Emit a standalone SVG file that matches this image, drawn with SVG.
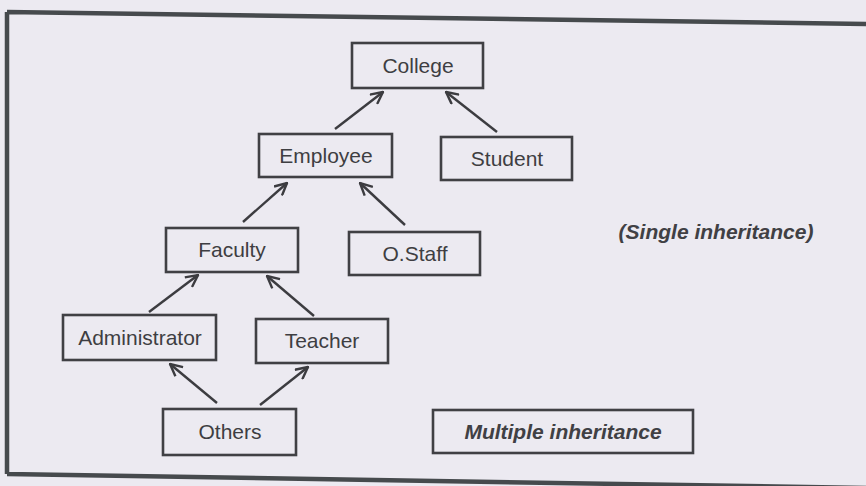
<svg xmlns="http://www.w3.org/2000/svg" width="866" height="486" viewBox="0 0 866 486">
  <defs>
    <marker id="open-arrow" viewBox="0 0 14 14" refX="13" refY="7" markerWidth="14" markerHeight="14" markerUnits="userSpaceOnUse" orient="auto">
      <path d="M1,1 L13,7 L1,13" fill="none" stroke="#3c3c40" stroke-width="2.4" stroke-linejoin="miter"/>
    </marker>
    <style>
      .box { fill: none; stroke: #404044; stroke-width: 2.6; }
      .label { font-family: "Liberation Sans", Arial, sans-serif; font-size: 21px; fill: #3e3e42; text-anchor: middle; }
      .note { font-family: "Liberation Sans", Arial, sans-serif; font-size: 21px; font-style: italic; font-weight: bold; fill: #404044; text-anchor: middle; }
      .edge { stroke: #3c3c40; stroke-width: 2.4; fill: none; marker-end: url(#open-arrow); }
      .frame { stroke: #464a4d; stroke-width: 4.5; fill: none; }
    </style>
  </defs>

  <rect width="866" height="486" fill="#eceaf1"/>

  <!-- outer frame: top, left and bottom rules -->
  <path class="frame" d="M7,12 L866,24 M7,12 L7,474 M7,474 L866,488"/>

  <g id="college"><rect class="box" x="352" y="43" width="131" height="45"/><text class="label" x="418" y="73">College</text></g>
  <g id="employee"><rect class="box" x="259" y="134" width="133" height="43"/><text class="label" x="326" y="163">Employee</text></g>
  <g id="student"><rect class="box" x="441" y="137" width="131" height="43"/><text class="label" x="507" y="166">Student</text></g>
  <g id="faculty"><rect class="box" x="166" y="228" width="132" height="44"/><text class="label" x="232" y="257">Faculty</text></g>
  <g id="ostaff"><rect class="box" x="349" y="232" width="131" height="43"/><text class="label" x="415" y="261">O.Staff</text></g>
  <g id="administrator"><rect class="box" x="63" y="315" width="153" height="45"/><text class="label" x="140" y="345">Administrator</text></g>
  <g id="teacher"><rect class="box" x="256" y="319" width="132" height="44"/><text class="label" x="322" y="348">Teacher</text></g>
  <g id="others"><rect class="box" x="163" y="409" width="133" height="46"/><text class="label" x="230" y="439">Others</text></g>
  <g id="multiple"><rect class="box" x="433" y="410" width="260" height="43"/><text class="note" x="563" y="439">Multiple inheritance</text></g>
  <g id="single"><text class="note" x="716" y="239">(Single inheritance)</text></g>

  <g id="connectors">
    <line class="edge" x1="335" y1="129" x2="383" y2="92"/>
    <line class="edge" x1="497" y1="132" x2="446" y2="92"/>
    <line class="edge" x1="243" y1="222" x2="287" y2="183"/>
    <line class="edge" x1="405" y1="225" x2="360" y2="183"/>
    <line class="edge" x1="149" y1="312" x2="198" y2="275"/>
    <line class="edge" x1="314" y1="316" x2="267" y2="276"/>
    <line class="edge" x1="217" y1="403" x2="170" y2="364"/>
    <line class="edge" x1="260" y1="405" x2="308" y2="367"/>
  </g>
</svg>
